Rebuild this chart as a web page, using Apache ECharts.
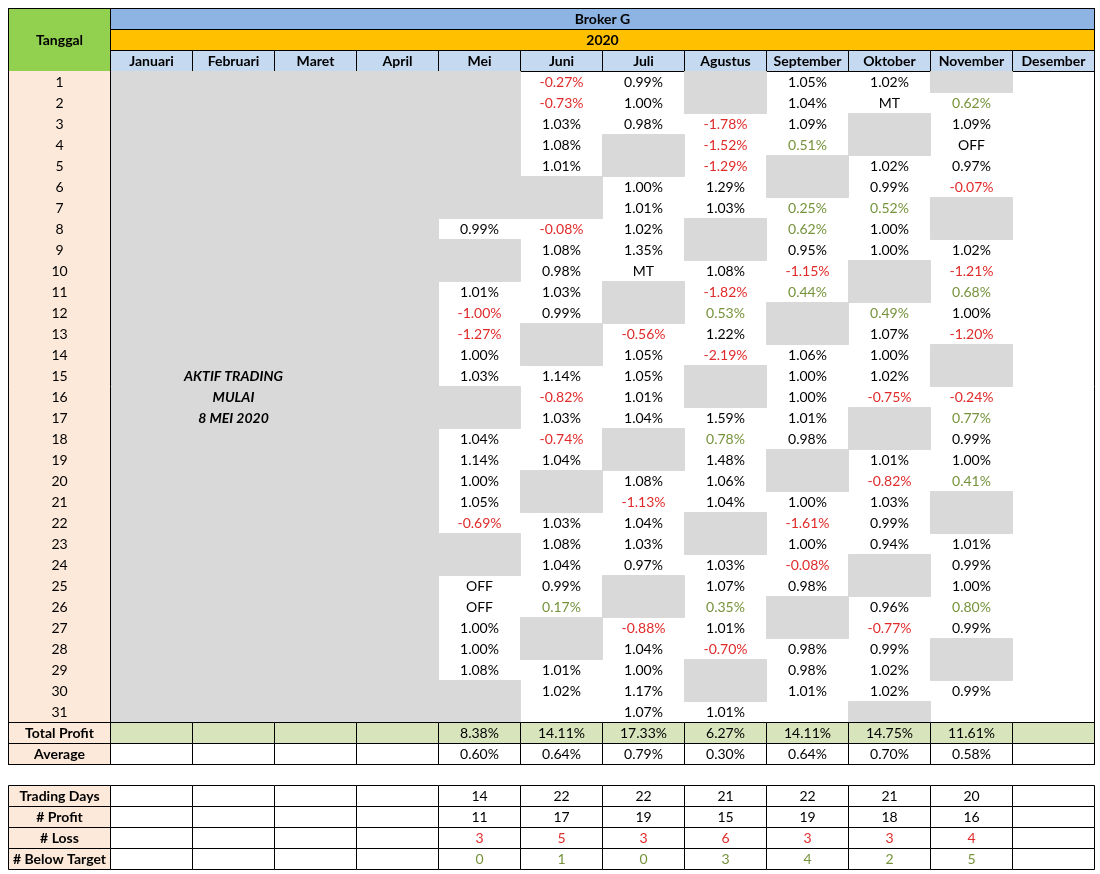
<!DOCTYPE html>
<html>
<head>
<meta charset="utf-8">
<script src="https://cdn.jsdelivr.net/npm/echarts@6/dist/echarts.min.js"></script>
<style>
  html, body { margin: 0; padding: 0; background: #fff; }
  #chart { width: 1100px; height: 874px; }
</style>
</head>
<body>
<div id="chart"></div>
<script>
var title = 'Broker G';
var year = '2020';
var months = ['Januari','Februari','Maret','April','Mei','Juni','Juli','Agustus','September','Oktober','November','Desember'];
var monthDays = [31, 29, 31, 30, 31, 30, 31, 31, 30, 31, 30, 31];
var startDay = 8; // trading started 8 Mei
var startNote = ['AKTIF TRADING', 'MULAI', '8 MEI 2020'];

// daily results per month, key = day of month
var mei = {8:'0.99',11:'1.01',12:'-1.00',13:'-1.27',14:'1.00',15:'1.03',18:'1.04',19:'1.14',20:'1.00',21:'1.05',22:'-0.69',25:'OFF',26:'OFF',27:'1.00',28:'1.00',29:'1.08'};
var juni = {1:'-0.27',2:'-0.73',3:'1.03',4:'1.08',5:'1.01',8:'-0.08',9:'1.08',10:'0.98',11:'1.03',12:'0.99',15:'1.14',16:'-0.82',17:'1.03',18:'-0.74',19:'1.04',22:'1.03',23:'1.08',24:'1.04',25:'0.99',26:'0.17',29:'1.01',30:'1.02'};
var juli = {1:'0.99',2:'1.00',3:'0.98',6:'1.00',7:'1.01',8:'1.02',9:'1.35',10:'MT',13:'-0.56',14:'1.05',15:'1.05',16:'1.01',17:'1.04',20:'1.08',21:'-1.13',22:'1.04',23:'1.03',24:'0.97',27:'-0.88',28:'1.04',29:'1.00',30:'1.17',31:'1.07'};
var agustus = {3:'-1.78',4:'-1.52',5:'-1.29',6:'1.29',7:'1.03',10:'1.08',11:'-1.82',12:'0.53',13:'1.22',14:'-2.19',17:'1.59',18:'0.78',19:'1.48',20:'1.06',21:'1.04',24:'1.03',25:'1.07',26:'0.35',27:'1.01',28:'-0.70',31:'1.01'};
var september = {1:'1.05',2:'1.04',3:'1.09',4:'0.51',7:'0.25',8:'0.62',9:'0.95',10:'-1.15',11:'0.44',14:'1.06',15:'1.00',16:'1.00',17:'1.01',18:'0.98',21:'1.00',22:'-1.61',23:'1.00',24:'-0.08',25:'0.98',28:'0.98',29:'0.98',30:'1.01'};
var oktober = {1:'1.02',2:'MT',5:'1.02',6:'0.99',7:'0.52',8:'1.00',9:'1.00',12:'0.49',13:'1.07',14:'1.00',15:'1.02',16:'-0.75',19:'1.01',20:'-0.82',21:'1.03',22:'0.99',23:'0.94',26:'0.96',27:'-0.77',28:'0.99',29:'1.02',30:'1.02'};
var november = {2:'0.62',3:'1.09',4:'OFF',5:'0.97',6:'-0.07',9:'1.02',10:'-1.21',11:'0.68',12:'1.00',13:'-1.20',16:'-0.24',17:'0.77',18:'0.99',19:'1.00',20:'0.41',23:'1.01',24:'0.99',25:'1.00',26:'0.80',27:'0.99',30:'0.99'};
var daily = [{}, {}, {}, {}, mei, juni, juli, agustus, september, oktober, november, {}];

var totalProfit = ['', '', '', '', '8.38%', '14.11%', '17.33%', '6.27%', '14.11%', '14.75%', '11.61%', ''];
var average = ['', '', '', '', '0.60%', '0.64%', '0.79%', '0.30%', '0.64%', '0.70%', '0.58%', ''];
var tradingDays = ['', '', '', '', 14, 22, 22, 21, 22, 21, 20, ''];
var profitCount = ['', '', '', '', 11, 17, 19, 15, 19, 18, 16, ''];
var lossCount = ['', '', '', '', 3, 5, 3, 6, 3, 3, 4, ''];
var belowTarget = ['', '', '', '', 0, 1, 0, 3, 4, 2, 5, ''];

var RED = '#e02b2b', GREEN = '#76933c', GREY = '#d9d9d9', PEACH = '#fde9d9';
var LEFT = -1.244;

var cells = [];
function cell(x0, x1, y0, y1, o) {
    o = o || {};
    cells.push({value: [x0, x1, y0, y1], o: o});
}

// header
cell(LEFT, 0, 0, 3, {fill: '#92d050', text: 'Tanggal', bold: true, border: true});
cell(0, 12, 0, 1, {fill: '#8db4e2', text: title, bold: true, border: true});
cell(0, 12, 1, 2, {fill: '#ffc000', text: year, bold: true, border: true});
months.forEach(function (m, i) {
    cell(i, i + 1, 2, 3, {fill: '#c5d9f1', text: m, bold: true, border: true});
});

// day column
for (var d = 1; d <= 31; d++) {
    cell(LEFT, 0, 2 + d, 3 + d, {fill: PEACH, text: String(d)});
}
// before start
cell(0, 4, 3, 34, {fill: GREY});
cell(4, 5, 3, 3 + startDay - 1, {fill: GREY});
startNote.forEach(function (t, k) {
    cell(0, 3, 17 + k, 18 + k, {text: t, bold: true, italic: true});
});

// loss red, below 0.9% target green, otherwise black
function valColor(s) {
    var v = parseFloat(s);
    if (isNaN(v)) return '#000';
    if (v < 0) return RED;
    if (v < 0.9) return GREEN;
    return '#000';
}
for (var mi = 4; mi < 12; mi++) {
    for (var day = 1; day <= 31; day++) {
        if (mi === 4 && day < startDay) continue;
        var y = 2 + day;
        var weekend = false;
        if (day <= monthDays[mi]) {
            var wd = new Date(2020, mi, day).getDay();
            weekend = (wd === 0 || wd === 6) && mi < 11;
        }
        var s = daily[mi][day];
        var txt = s === undefined ? '' : (isNaN(parseFloat(s)) ? s : s + '%');
        cell(mi, mi + 1, y, y + 1, {fill: weekend ? GREY : null, text: txt, color: s ? valColor(s) : '#000'});
    }
}

// totals
cell(LEFT, 0, 34, 35, {fill: PEACH, text: 'Total Profit', bold: true, border: true});
cell(LEFT, 0, 35, 36, {fill: PEACH, text: 'Average', bold: true, border: true});
for (var i = 0; i < 12; i++) {
    cell(i, i + 1, 34, 35, {fill: '#d8e4bc', text: totalProfit[i], border: true});
    cell(i, i + 1, 35, 36, {text: average[i], border: true});
}
// outer frame of main table
cell(LEFT, 12, 0, 36, {frame: true});
cell(LEFT, 0, 0, 36, {frame: true});

// stats
var statRows = [['Trading Days', tradingDays, '#000'], ['# Profit', profitCount, '#000'], ['# Loss', lossCount, RED], ['# Below Target', belowTarget, GREEN]];
statRows.forEach(function (r, k) {
    var y = 37 + k;
    cell(LEFT, 0, y, y + 1, {fill: PEACH, text: r[0], bold: true, border: true});
    for (var i = 0; i < 12; i++) {
        cell(i, i + 1, y, y + 1, {text: String(r[1][i]), color: r[2], border: true});
    }
});

function renderItem(params, api) {
    var c = cells[params.dataIndex].o;
    var p0 = api.coord([api.value(0), api.value(2)]);
    var p1 = api.coord([api.value(1), api.value(3)]);
    var x = Math.round(p0[0]) + 0.5, y = Math.round(p0[1]) + 0.5;
    var w = Math.round(p1[0]) - Math.round(p0[0]), h = Math.round(p1[1]) - Math.round(p0[1]);
    var children = [];
    if (c.fill || c.border || c.frame) {
        var stroke = (c.border || c.frame) ? '#000' : c.fill;
        children.push({
            type: 'rect',
            shape: {x: x, y: y, width: w, height: h},
            style: {fill: c.frame ? 'none' : (c.fill || '#fff'), stroke: stroke, lineWidth: 1}
        });
    }
    if (c.text) {
        children.push({
            type: 'text',
            style: {
                x: x + w / 2, y: y + h / 2, text: c.text,
                align: 'center', verticalAlign: 'middle',
                fontFamily: 'Lato, "Open Sans", sans-serif', fontSize: 14,
                fontWeight: c.bold ? 'bold' : 'normal',
                fontStyle: c.italic ? 'italic' : 'normal',
                fill: c.color || '#000'
            }
        });
    }
    return {type: 'group', children: children};
}

var option = {
    animation: false,
    grid: {left: 8, top: 8, width: 1086, height: 861},
    xAxis: {type: 'value', min: LEFT, max: 12, show: false},
    yAxis: {type: 'value', min: 0, max: 41, inverse: true, show: false},
    series: [{
        type: 'custom',
        renderItem: renderItem,
        clip: false,
        encode: {x: [0, 1], y: [2, 3]},
        data: cells.map(function (c) { return c.value; })
    }]
};

var chart = echarts.init(document.getElementById('chart'));
chart.setOption(option);
window.onresize = function () { chart.resize(); };
</script>
</body>
</html>
